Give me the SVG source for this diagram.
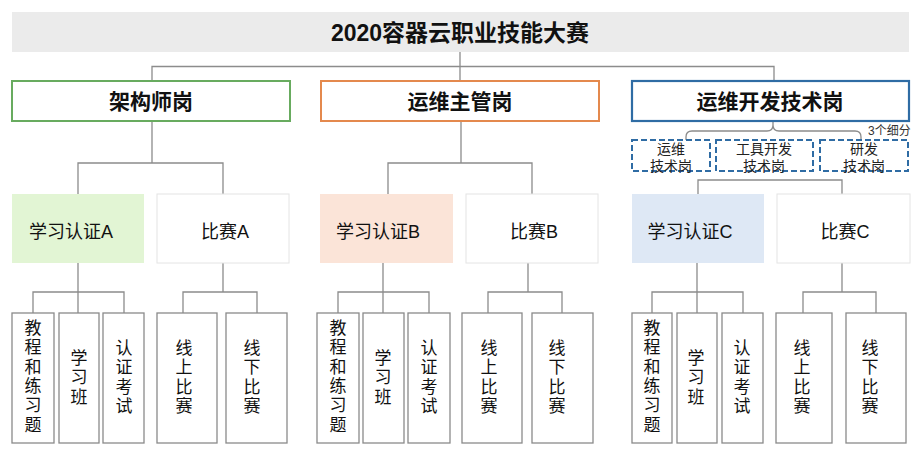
<svg xmlns="http://www.w3.org/2000/svg" width="920" height="455" viewBox="0 0 920 455">
<style>
text{font-family:"Liberation Sans","Noto Sans CJK SC",sans-serif;fill:#111;}
.title{font-size:23px;font-weight:bold;text-anchor:middle;}
.h1{font-size:21px;font-weight:bold;text-anchor:middle;}
.h2{font-size:18px;text-anchor:middle;}
.sub{font-size:14px;text-anchor:middle;fill:#222;}
.note{font-size:12px;fill:#333;}
.v{font-size:17px;text-anchor:middle;}
.ln{fill:none;stroke:#8c8c8c;stroke-width:1.3;}
.leaf{fill:#fff;stroke:#8a8a8a;stroke-width:1.3;}
.dash{fill:#fff;stroke:#2f6ca4;stroke-width:2;stroke-dasharray:6 3;}
.wbox{fill:#fff;stroke:#e4e4e4;stroke-width:1;}
</style>
<rect width="920" height="455" fill="#fff"/>
<g id="connectors">
<path class="ln" d="M460,52V66.5M152,81V66.5H774V81M460,66.5V81"/>
<path class="ln" d="M152,121V163M78,194V163H223V194"/>
<path class="ln" d="M461,121V163M388,194V163H532V194"/>
<path class="ln" d="M773,121V125Q773,131 767,131H692Q686,131 686,137V140M773,125Q773,131 779,131H855Q861,131 861,137V140"/>
<path class="ln" d="M698,194V180H842V194"/>
<path class="ln" d="M78,263V292M33,313V292H124V313M78,292V313"/>
<path class="ln" d="M223,263V292M183,313V292H257V313"/>
<path class="ln" d="M383,263V292M338,313V292H429V313M383,292V313"/>
<path class="ln" d="M528,263V292M488,313V292H562V313"/>
<path class="ln" d="M697,263V292M652,313V292H743V313M697,292V313"/>
<path class="ln" d="M842,263V292M803,313V292H876V313"/>
</g>
<g id="title">
<rect x="12" y="12" width="897" height="40" fill="#ebebeb"/>
<text class="title" x="460" y="41">2020容器云职业技能大赛</text>
</g>
<g id="architect">
<rect x="12" y="81" width="278" height="40" fill="#fff" stroke="#68ab5f" stroke-width="2"/>
<text class="h1" x="151" y="108.5">架构师岗</text>
</g>
<g id="ops-manager">
<rect x="321" y="81" width="278" height="40" fill="#fff" stroke="#e4894d" stroke-width="2"/>
<text class="h1" x="460" y="108.5">运维主管岗</text>
</g>
<g id="devops">
<rect x="632" y="81" width="277" height="40" fill="#fff" stroke="#2f6ca4" stroke-width="2.2"/>
<text class="h1" x="770" y="108.5">运维开发技术岗</text>
</g>
<g id="note">
<text class="note" x="868" y="135">3个细分</text>
</g>
<g id="sub-ops">
<rect class="dash" x="632" y="140" width="78" height="31" stroke-width="2.6"/>
<text class="sub" x="671" y="154">运维</text>
<text class="sub" x="671" y="171">技术岗</text>
</g>
<g id="sub-tools">
<rect class="dash" x="716" y="140" width="97" height="31"/>
<text class="sub" x="764" y="154">工具开发</text>
<text class="sub" x="764" y="171">技术岗</text>
</g>
<g id="sub-rd">
<rect class="dash" x="820" y="140" width="88" height="31"/>
<text class="sub" x="864" y="154">研发</text>
<text class="sub" x="864" y="171">技术岗</text>
</g>
<g id="learn-a">
<rect x="12" y="194" width="132" height="69" fill="#e2f5d4"/>
<text class="h2" x="71" y="238">学习认证A</text>
</g>
<g id="comp-a">
<rect class="wbox" x="157" y="194" width="132" height="69"/>
<text class="h2" x="225" y="238">比赛A</text>
</g>
<g id="learn-b">
<rect x="320" y="194" width="133" height="69" fill="#fbe4d8"/>
<text class="h2" x="378" y="238">学习认证B</text>
</g>
<g id="comp-b">
<rect class="wbox" x="466" y="194" width="132" height="69"/>
<text class="h2" x="534" y="238">比赛B</text>
</g>
<g id="learn-c">
<rect x="632" y="194" width="132" height="69" fill="#dee8f5"/>
<text class="h2" x="690" y="238">学习认证C</text>
</g>
<g id="comp-c">
<rect class="wbox" x="777" y="194" width="133" height="69"/>
<text class="h2" x="845" y="238">比赛C</text>
</g>
<g id="a-tutorial"><rect class="leaf" x="12" y="313" width="42" height="130"/>
<text class="v" x="33" y="334"><tspan x="33">教</tspan><tspan x="33" dy="19.3">程</tspan><tspan x="33" dy="19.3">和</tspan><tspan x="33" dy="19.3">练</tspan><tspan x="33" dy="19.3">习</tspan><tspan x="33" dy="19.3">题</tspan></text></g>
<g id="a-class"><rect class="leaf" x="59" y="313" width="40" height="130"/>
<text class="v" x="79" y="364"><tspan x="79">学</tspan><tspan x="79" dy="19.3">习</tspan><tspan x="79" dy="19.3">班</tspan></text></g>
<g id="a-exam"><rect class="leaf" x="103" y="313" width="41" height="130"/>
<text class="v" x="124" y="354"><tspan x="124">认</tspan><tspan x="124" dy="19.3">证</tspan><tspan x="124" dy="19.3">考</tspan><tspan x="124" dy="19.3">试</tspan></text></g>
<g id="a-online"><rect class="leaf" x="157" y="313" width="60" height="130"/>
<text class="v" x="184" y="354"><tspan x="184">线</tspan><tspan x="184" dy="19.3">上</tspan><tspan x="184" dy="19.3">比</tspan><tspan x="184" dy="19.3">赛</tspan></text></g>
<g id="a-offline"><rect class="leaf" x="226" y="313" width="61" height="130"/>
<text class="v" x="252" y="354"><tspan x="252">线</tspan><tspan x="252" dy="19.3">下</tspan><tspan x="252" dy="19.3">比</tspan><tspan x="252" dy="19.3">赛</tspan></text></g>
<g id="b-tutorial"><rect class="leaf" x="317" y="313" width="42" height="130"/>
<text class="v" x="338" y="334"><tspan x="338">教</tspan><tspan x="338" dy="19.3">程</tspan><tspan x="338" dy="19.3">和</tspan><tspan x="338" dy="19.3">练</tspan><tspan x="338" dy="19.3">习</tspan><tspan x="338" dy="19.3">题</tspan></text></g>
<g id="b-class"><rect class="leaf" x="363" y="313" width="41" height="130"/>
<text class="v" x="383" y="364"><tspan x="383">学</tspan><tspan x="383" dy="19.3">习</tspan><tspan x="383" dy="19.3">班</tspan></text></g>
<g id="b-exam"><rect class="leaf" x="408" y="313" width="42" height="130"/>
<text class="v" x="429" y="354"><tspan x="429">认</tspan><tspan x="429" dy="19.3">证</tspan><tspan x="429" dy="19.3">考</tspan><tspan x="429" dy="19.3">试</tspan></text></g>
<g id="b-online"><rect class="leaf" x="462" y="313" width="60" height="130"/>
<text class="v" x="489" y="354"><tspan x="489">线</tspan><tspan x="489" dy="19.3">上</tspan><tspan x="489" dy="19.3">比</tspan><tspan x="489" dy="19.3">赛</tspan></text></g>
<g id="b-offline"><rect class="leaf" x="532" y="313" width="61" height="130"/>
<text class="v" x="557" y="354"><tspan x="557">线</tspan><tspan x="557" dy="19.3">下</tspan><tspan x="557" dy="19.3">比</tspan><tspan x="557" dy="19.3">赛</tspan></text></g>
<g id="c-tutorial"><rect class="leaf" x="632" y="313" width="40" height="130"/>
<text class="v" x="652" y="334"><tspan x="652">教</tspan><tspan x="652" dy="19.3">程</tspan><tspan x="652" dy="19.3">和</tspan><tspan x="652" dy="19.3">练</tspan><tspan x="652" dy="19.3">习</tspan><tspan x="652" dy="19.3">题</tspan></text></g>
<g id="c-class"><rect class="leaf" x="677" y="313" width="40" height="130"/>
<text class="v" x="696" y="364"><tspan x="696">学</tspan><tspan x="696" dy="19.3">习</tspan><tspan x="696" dy="19.3">班</tspan></text></g>
<g id="c-exam"><rect class="leaf" x="722" y="313" width="41" height="130"/>
<text class="v" x="742" y="354"><tspan x="742">认</tspan><tspan x="742" dy="19.3">证</tspan><tspan x="742" dy="19.3">考</tspan><tspan x="742" dy="19.3">试</tspan></text></g>
<g id="c-online"><rect class="leaf" x="776" y="313" width="56" height="130"/>
<text class="v" x="802" y="354"><tspan x="802">线</tspan><tspan x="802" dy="19.3">上</tspan><tspan x="802" dy="19.3">比</tspan><tspan x="802" dy="19.3">赛</tspan></text></g>
<g id="c-offline"><rect class="leaf" x="846" y="313" width="60" height="130"/>
<text class="v" x="870" y="354"><tspan x="870">线</tspan><tspan x="870" dy="19.3">下</tspan><tspan x="870" dy="19.3">比</tspan><tspan x="870" dy="19.3">赛</tspan></text></g>
</svg>
